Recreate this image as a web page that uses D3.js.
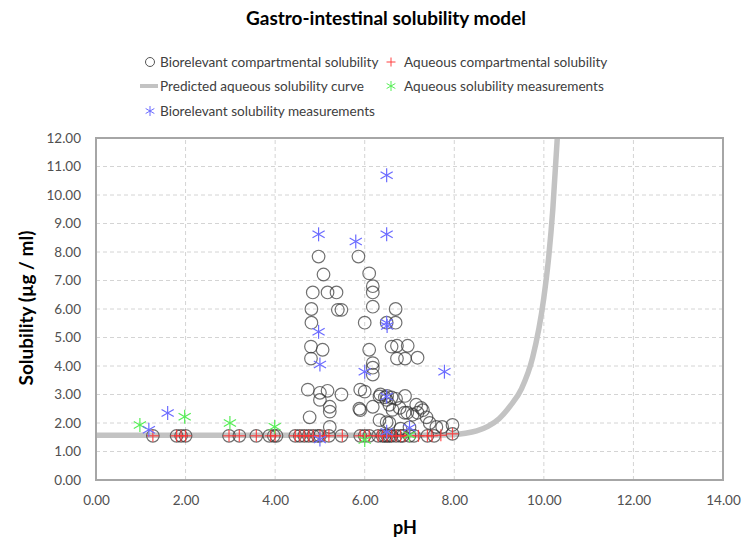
<!DOCTYPE html>
<html><head><meta charset="utf-8">
<script src="https://cdn.jsdelivr.net/npm/d3@7"></script>
<style>body{margin:0;background:#fff}svg{display:block;font-family:Lato,"Open Sans",sans-serif}</style>
</head><body><svg id="c" width="744" height="544"></svg>
<script>
const xTicks = [0,2,4,6,8,10,12,14];
const yTicks = [0,1,2,3,4,5,6,7,8,9,10,11,12];
// Predicted aqueous solubility curve (pH, µg/ml)
const curvePH = [0,2,4,6,7,7.5,8,8.25,8.5,8.75,9,9.25,9.5,9.75,10,10.1,10.2,10.3];
const curveS  = [1.57,1.57,1.57,1.57,1.57,1.58,1.6,1.64,1.72,1.88,2.15,2.6,3.2,4.3,6.4,7.7,9.5,12.0];
// Biorelevant compartmental solubility (circles)
const bioCompPH = [1.27,1.8,1.9,2.0,2.97,3.2,3.58,3.87,3.97,4.03,4.45,4.55,4.65,4.75,4.85,4.95,5.0,5.2,5.48,5.9,6.0,6.1,6.3,6.4,6.45,6.5,6.55,6.6,6.7,6.8,6.85,7.0,7.1,7.4,7.55,7.96,
  4.97,5.86,5.08,6.1,6.18,6.18,4.84,5.17,5.37,4.81,5.4,5.48,6.18,6.69,4.81,6.0,6.49,6.69,4.8,5.06,4.8,6.1,6.18,6.18,6.18,6.6,6.72,6.96,6.72,6.9,7.18,
  4.73,5.0,5.17,5.48,5.0,5.22,5.22,4.77,5.22,5.9,6.0,5.88,5.9,6.18,6.33,6.45,6.49,6.55,6.62,6.78,6.89,6.95,7.07,7.18,7.26,7.15,6.35,6.5,6.6,6.7,6.9,6.33,6.49,6.55,7.38,7.45,7.6,7.73,7.96,7.3,6.8,7.0];
const bioCompS = [1.55,1.55,1.55,1.55,1.55,1.55,1.55,1.55,1.55,1.55,1.55,1.55,1.55,1.55,1.55,1.55,1.55,1.55,1.55,1.55,1.55,1.55,1.55,1.55,1.55,1.55,1.55,1.55,1.55,1.55,1.55,1.55,1.55,1.55,1.55,1.62,
  7.84,7.84,7.21,7.25,6.8,6.58,6.58,6.58,6.58,6.0,5.97,5.97,6.08,6.0,5.52,5.52,5.52,5.52,4.68,4.57,4.26,4.57,4.1,3.94,3.7,4.68,4.71,4.71,4.26,4.26,4.29,
  3.17,3.06,3.13,3.0,2.81,2.57,2.4,2.2,1.86,3.17,3.1,2.5,2.45,2.57,2.93,2.9,2.81,2.64,2.46,2.53,2.36,2.36,2.29,2.36,2.53,2.64,3.0,2.95,2.9,2.85,2.95,2.1,2.03,2.0,2.2,2.0,1.86,1.86,1.93,2.45,1.8,1.85];
// Aqueous compartmental solubility (red plus)
const aqCompPH = [1.27,1.8,1.9,2.0,2.97,3.2,3.58,3.9,4.0,4.45,4.55,4.65,4.75,4.85,5.0,5.1,5.2,5.5,5.9,6.0,6.1,6.3,6.4,6.5,6.6,6.7,6.8,6.9,7.0,7.2,7.4,7.5,7.7,7.96];
const aqCompS  = [1.55,1.55,1.55,1.55,1.55,1.55,1.55,1.55,1.55,1.55,1.55,1.55,1.55,1.55,1.55,1.55,1.55,1.55,1.55,1.55,1.55,1.55,1.55,1.55,1.55,1.55,1.55,1.55,1.55,1.55,1.55,1.55,1.57,1.62];
// Aqueous solubility measurements (green asterisk)
const aqMeasPH = [0.98,1.98,2.99,3.99,6.0,7.0];
const aqMeasS  = [1.93,2.22,2.0,1.87,1.4,1.58];
// Biorelevant solubility measurements (blue asterisk)
const bioMeasPH = [1.18,1.6,4.97,5.8,6.49,6.49,4.97,5.0,6.0,7.78,6.49,6.5,6.49,7.0,5.0,6.49];
const bioMeasS  = [1.76,2.35,8.62,8.37,8.62,10.69,5.2,4.05,3.8,3.8,5.52,5.4,2.93,1.83,1.42,1.69];

const svg = d3.select("#c");
const x = d3.scaleLinear().domain([0,14]).range([96,723]);
const y = d3.scaleLinear().domain([0,12]).range([480,138]);

svg.append("text").attr("x",386).attr("y",25).attr("text-anchor","middle")
  .attr("font-size",19).attr("font-weight","bold").attr("fill","#000").text("Gastro-intestinal solubility model");

// grid
const g = svg.append("g");
g.selectAll("line.h").data(yTicks.slice(1,-1)).enter().append("line")
  .attr("x1",x(0)).attr("x2",x(14)).attr("y1",d=>y(d)).attr("y2",d=>y(d))
  .attr("stroke","#d4d4d4").attr("stroke-dasharray","4,3");
g.selectAll("line.v").data(xTicks.slice(1,-1)).enter().append("line")
  .attr("y1",y(0)).attr("y2",y(12)).attr("x1",d=>x(d)).attr("x2",d=>x(d))
  .attr("stroke","#d4d4d4").attr("stroke-dasharray","4,3");

// axes
const xa = svg.append("g").attr("transform",`translate(0,${y(0)})`)
  .call(d3.axisBottom(x).tickValues(xTicks).tickFormat(d3.format(".2f")).tickSize(0).tickPadding(15));
const ya = svg.append("g").attr("transform",`translate(${x(0)},0)`)
  .call(d3.axisLeft(y).tickValues(yTicks).tickFormat(d3.format(".2f")).tickSize(0).tickPadding(15));
[xa,ya].forEach(a=>{a.select(".domain").remove();a.selectAll("text").attr("font-size",13.5).attr("fill","#505050").attr("font-family","Lato");});

// curve
const pts = curvePH.map((p,i)=>[p,curveS[i]]);
svg.append("path").datum(pts).attr("fill","none").attr("stroke","#c3c3c3").attr("stroke-width",5.5)
  .attr("d",d3.line().x(d=>x(d[0])).y(d=>y(d[1])).curve(d3.curveMonotoneX));

// border
svg.append("rect").attr("x",x(0)).attr("y",y(12)).attr("width",x(14)-x(0)).attr("height",y(0)-y(12))
  .attr("fill","none").attr("stroke","#a6a6a6").attr("stroke-width",2);

function star(sel, col, r){
  sel.append("line").attr("x1",0).attr("x2",0).attr("y1",-r).attr("y2",r).attr("stroke",col);
  sel.append("line").attr("x1",-r*0.87).attr("x2",r*0.87).attr("y1",-r*0.5).attr("y2",r*0.5).attr("stroke",col);
  sel.append("line").attr("x1",-r*0.87).attr("x2",r*0.87).attr("y1",r*0.5).attr("y2",-r*0.5).attr("stroke",col);
}
function plus(sel, col, r){
  sel.append("line").attr("x1",0).attr("x2",0).attr("y1",-r).attr("y2",r).attr("stroke",col);
  sel.append("line").attr("x1",-r).attr("x2",r).attr("y1",0).attr("y2",0).attr("stroke",col);
}

// circles
svg.append("g").selectAll("circle").data(bioCompPH.map((p,i)=>[p,bioCompS[i]])).enter().append("circle")
  .attr("cx",d=>x(d[0])).attr("cy",d=>y(d[1])).attr("r",6.3)
  .attr("fill","none").attr("stroke","#333").attr("stroke-opacity",0.7).attr("stroke-width",1.2);
// red plus
svg.append("g").selectAll("g").data(aqCompPH.map((p,i)=>[p,aqCompS[i]])).enter().append("g")
  .attr("transform",d=>`translate(${x(d[0])},${y(d[1])})`).each(function(){plus(d3.select(this),"#ff3030",6);})
  .attr("stroke-width",1.2).attr("opacity",0.85);
// green
svg.append("g").selectAll("g").data(aqMeasPH.map((p,i)=>[p,aqMeasS[i]])).enter().append("g")
  .attr("transform",d=>`translate(${x(d[0])},${y(d[1])})`).each(function(){star(d3.select(this),"#55ee55",7);})
  .attr("stroke-width",1.2);
// blue
svg.append("g").selectAll("g").data(bioMeasPH.map((p,i)=>[p,bioMeasS[i]])).enter().append("g")
  .attr("transform",d=>`translate(${x(d[0])},${y(d[1])})`).each(function(){star(d3.select(this),"#6b6bff",7);})
  .attr("stroke-width",1.2);

// axis titles
svg.append("text").attr("x",405).attr("y",534).attr("text-anchor","middle").attr("font-size",18).attr("font-weight","bold").text("pH");
svg.append("text").attr("transform","translate(33,308) rotate(-90)").attr("text-anchor","middle")
  .attr("font-size",19).attr("font-weight","bold").text("Solubility (µg / ml)");

// legend
const lg = svg.append("g").attr("font-size",13.6).attr("fill","#404040");
const items = [
  {x:150,y:62,t:"Biorelevant compartmental solubility",k:"c"},
  {x:391,y:62,t:"Aqueous compartmental solubility",k:"p"},
  {x:150,y:86,t:"Predicted aqueous solubility curve",k:"l"},
  {x:391,y:86,t:"Aqueous solubility measurements",k:"g"},
  {x:150,y:111,t:"Biorelevant solubility measurements",k:"b"}];
items.forEach(it=>{
  const s = lg.append("g").attr("transform",`translate(${it.x},${it.y})`);
  if(it.k==="c") s.append("circle").attr("r",4.5).attr("fill","none").attr("stroke","#555").attr("stroke-width",1);
  if(it.k==="p") plus(s,"#ff4040",4.5);
  if(it.k==="l") s.append("line").attr("x1",-10).attr("x2",8).attr("stroke","#c3c3c3").attr("stroke-width",4);
  if(it.k==="g") star(s,"#55ee55",5);
  if(it.k==="b") star(s,"#6b6bff",5);
  lg.append("text").attr("x",it.x+(it.k==="p"||it.k==="g"?13:10)).attr("y",it.y+4.5).text(it.t);
});
</script></body></html>
